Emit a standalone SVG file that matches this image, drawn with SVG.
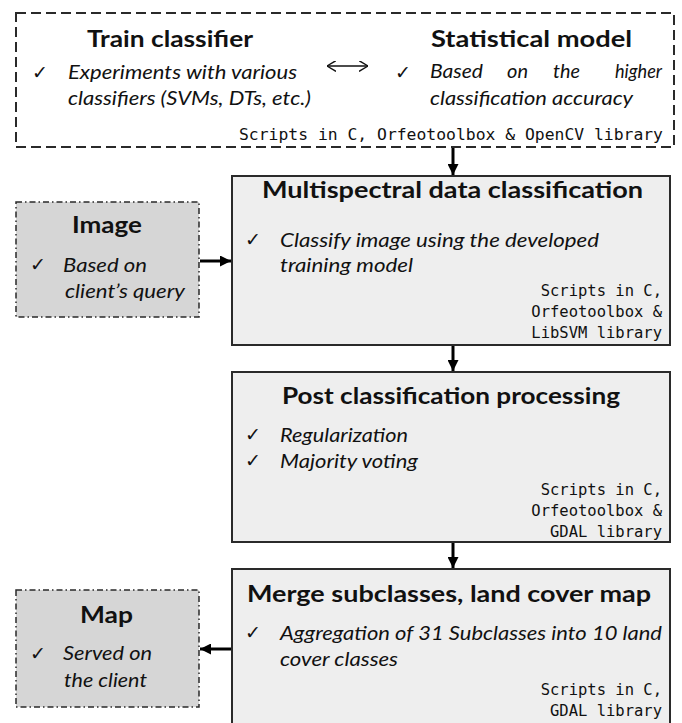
<svg xmlns="http://www.w3.org/2000/svg" width="682" height="723" viewBox="0 0 682 723">
<defs>
<style>
.title{font-family:Lato,"Liberation Sans",sans-serif;font-weight:bold;font-size:22.5px;fill:#111}
.it{font-family:Lato,"Liberation Sans",sans-serif;font-style:italic;font-size:18.5px;fill:#111}
.mono{font-family:"DejaVu Sans Mono","Liberation Mono",monospace;font-size:15.5px;fill:#111}
.chk{font-family:"DejaVu Sans",sans-serif;font-size:19px;fill:#111}
.main{fill:#eeeeee;stroke:#2a2a2a;stroke-width:2}
.side{fill:#d6d6d6;stroke:#2a2a2a;stroke-width:1.5;stroke-dasharray:6 3 1.5 3}
.arrow{fill:none;stroke:#000;stroke-width:3;marker-end:url(#head)}
</style>
<marker id="head" viewBox="0 0 10 10" refX="10" refY="5" markerWidth="11" markerHeight="11" markerUnits="userSpaceOnUse" orient="auto">
<path d="M0,0 L10,5 L0,10 z" fill="#000"/>
</marker>
<marker id="open" viewBox="0 0 10 12" refX="10" refY="6" markerWidth="9" markerHeight="11" markerUnits="userSpaceOnUse" orient="auto-start-reverse">
<path d="M0,0 L10,6 L0,12" fill="none" stroke="#111" stroke-width="1.6"/>
</marker>
</defs>

<g id="train-model">
<rect x="16" y="13" width="658" height="134" fill="#fff" stroke="#2a2a2a" stroke-width="2" stroke-dasharray="10 5"/>
<text class="title" x="87" y="47" textLength="166" lengthAdjust="spacingAndGlyphs">Train classifier</text>
<text class="chk" x="32" y="79">✓</text>
<text class="it" x="68" y="79" textLength="229" lengthAdjust="spacingAndGlyphs">Experiments with various</text>
<text class="it" x="68" y="105" textLength="243" lengthAdjust="spacingAndGlyphs">classifiers (SVMs, DTs, etc.)</text>
<text class="title" x="431" y="47" textLength="201" lengthAdjust="spacingAndGlyphs">Statistical model</text>
<text class="chk" x="395" y="79">✓</text>
<text class="it" x="430" y="78" textLength="53" lengthAdjust="spacingAndGlyphs">Based</text>
<text class="it" x="507" y="78" textLength="21" lengthAdjust="spacingAndGlyphs">on</text>
<text class="it" x="553" y="78" textLength="27" lengthAdjust="spacingAndGlyphs">the</text>
<text class="it" x="615" y="78" textLength="47" lengthAdjust="spacingAndGlyphs">higher</text>
<text class="it" x="430" y="105" textLength="203" lengthAdjust="spacingAndGlyphs">classification accuracy</text>
<text class="mono" x="239" y="140" textLength="424" lengthAdjust="spacingAndGlyphs">Scripts in C, Orfeotoolbox &amp; OpenCV library</text>
</g>

<g id="image">
<rect class="side" x="16" y="202" width="183" height="115"/>
<text class="title" x="72" y="233" textLength="70" lengthAdjust="spacingAndGlyphs">Image</text>
<text class="chk" x="30" y="271">✓</text>
<text class="it" x="63" y="272" textLength="84" lengthAdjust="spacingAndGlyphs">Based on</text>
<text class="it" x="65" y="298" textLength="120" lengthAdjust="spacingAndGlyphs">client’s query</text>
</g>

<g id="multispectral">
<rect class="main" x="232" y="176" width="438" height="169"/>
<text class="title" x="262" y="198" textLength="381" lengthAdjust="spacingAndGlyphs">Multispectral data classification</text>
<text class="chk" x="245" y="246">✓</text>
<text class="it" x="280" y="247" textLength="319" lengthAdjust="spacingAndGlyphs">Classify image using the developed</text>
<text class="it" x="280" y="272" textLength="133" lengthAdjust="spacingAndGlyphs">training model</text>
<text class="mono" x="662" y="296" text-anchor="end">Scripts in C,</text>
<text class="mono" x="662" y="317" text-anchor="end">Orfeotoolbox &amp;</text>
<text class="mono" x="662" y="338" text-anchor="end">LibSVM library</text>
</g>

<g id="postclassification">
<rect class="main" x="232" y="372" width="438" height="170"/>
<text class="title" x="282" y="404" textLength="338" lengthAdjust="spacingAndGlyphs">Post classification processing</text>
<text class="chk" x="245" y="441">✓</text>
<text class="it" x="280" y="442" textLength="128" lengthAdjust="spacingAndGlyphs">Regularization</text>
<text class="chk" x="245" y="467">✓</text>
<text class="it" x="280" y="468" textLength="138" lengthAdjust="spacingAndGlyphs">Majority voting</text>
<text class="mono" x="662" y="495" text-anchor="end">Scripts in C,</text>
<text class="mono" x="662" y="516" text-anchor="end">Orfeotoolbox &amp;</text>
<text class="mono" x="662" y="537" text-anchor="end">GDAL library</text>
</g>

<g id="merge">
<rect class="main" x="232" y="569" width="438" height="170"/>
<text class="title" x="247" y="602" textLength="404" lengthAdjust="spacingAndGlyphs">Merge subclasses, land cover map</text>
<text class="chk" x="245" y="639">✓</text>
<text class="it" x="280" y="640" textLength="382" lengthAdjust="spacingAndGlyphs">Aggregation of 31 Subclasses into 10 land</text>
<text class="it" x="280" y="666" textLength="118" lengthAdjust="spacingAndGlyphs">cover classes</text>
<text class="mono" x="662" y="695" text-anchor="end">Scripts in C,</text>
<text class="mono" x="662" y="716" text-anchor="end">GDAL library</text>
</g>

<g id="map">
<rect class="side" x="16" y="590" width="183" height="117"/>
<text class="title" x="80" y="623" textLength="53" lengthAdjust="spacingAndGlyphs">Map</text>
<text class="chk" x="30" y="660">✓</text>
<text class="it" x="63" y="660" textLength="89" lengthAdjust="spacingAndGlyphs">Served on</text>
<text class="it" x="64" y="687" textLength="83" lengthAdjust="spacingAndGlyphs">the client</text>
</g>

<g id="connectors">
<path d="M327,66 L368,66" fill="none" stroke="#111" stroke-width="1.6" marker-start="url(#open)" marker-end="url(#open)"/>
<path class="arrow" d="M453,148 L453,175"/>
<path class="arrow" d="M453,346 L453,371"/>
<path class="arrow" d="M453,543 L453,568"/>
<path class="arrow" d="M200,261 L231,261"/>
<path class="arrow" d="M231,649 L200,649"/>
</g>
</svg>
